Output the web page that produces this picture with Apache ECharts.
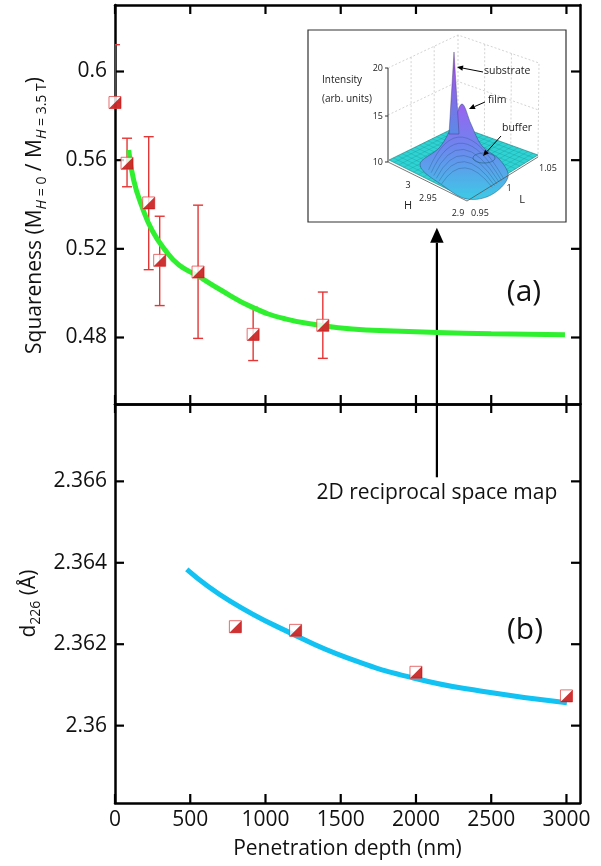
<!DOCTYPE html>
<html>
<head>
<meta charset="utf-8">
<title>Squareness and d226 vs penetration depth</title>
<script src="https://cdn.jsdelivr.net/npm/echarts@6.0.0/dist/echarts.min.js"></script>
<style>
  html, body { margin: 0; padding: 0; background: #fff; }
  #main { width: 601px; height: 866px; }
</style>
</head>
<body>
<div id="main"></div>
<script>
// panel (a): squareness points with error bars
var depthA = [0, 80, 224, 297, 552, 918, 1381];
var squareA = [0.586, 0.5586, 0.5407, 0.5148, 0.5095, 0.4814, 0.4855];
var errLowA = [0.586, 0.548, 0.5106, 0.4944, 0.4796, 0.4696, 0.4706];
var errHighA = [0.6121, 0.5699, 0.5706, 0.5347, 0.5397, 0.4936, 0.5005];
// panel (a): green fit curve
var fitDepthA = [91, 124, 180, 246, 335, 423, 545, 689, 911, 1132, 1376, 1576, 1850, 2139, 2500, 2990];
var fitSquareA = [0.5646, 0.551, 0.5389, 0.5284, 0.5193, 0.5128, 0.508, 0.502, 0.4937, 0.4884, 0.4854, 0.4838, 0.4829, 0.4823, 0.4817, 0.4812];
// panel (b): d226 points and blue fit curve
var depthB = [800, 1200, 2000, 3000];
var d226B = [2.36243, 2.36234, 2.36131, 2.36073];
var fitDepthB = [477, 765, 1186, 1540, 1983, 2427, 3003];
var fitD226B = [2.36384, 2.36306, 2.36224, 2.36167, 2.36117, 2.36085, 2.36056];
// ticks
var depthTicks = [0, 500, 1000, 1500, 2000, 2500, 3000];
var squareTicks = [0.48, 0.52, 0.56, 0.6];
var d226Ticks = [2.36, 2.362, 2.364, 2.366];
var squareRange = [0.45, 0.63];
var d226Range = [2.3581, 2.3679];
var depthRange = [0, 3090];
// annotation anchor: arrow from panel (b) up to the inset
var arrowDepth = 2139;
var arrowTopSquare = 0.5295;
var arrowBottomD = 2.3661;

var FONT = 'Open Sans';
var RED = '#e53535';
var DARKRED = '#c00000';
var HALF = 'path://M10,0L10,10L0,10Z';
var TICK_LEN = 9;

function zip(a, b) {
  var out = [];
  for (var i = 0; i < a.length; i++) out.push([a[i], b[i]]);
  return out;
}

function xAxisOf(grid, pos, labels) {
  return {
    type: 'value', gridIndex: grid, position: pos, min: depthRange[0], max: depthRange[1],
    axisLine: { show: true, onZero: false, lineStyle: { color: '#000', width: 2.5 } },
    axisTick: { show: false },
    axisLabel: { show: labels, customValues: depthTicks, color: '#111', fontFamily: FONT, fontSize: 21, margin: 7,
      formatter: function (v) { return String(v); } },
    splitLine: { show: false }
  };
}

function yAxisOf(grid, pos, range, ticks, labels) {
  return {
    type: 'value', gridIndex: grid, position: pos, min: range[0], max: range[1],
    axisLine: { show: true, onZero: false, lineStyle: { color: '#000', width: 2.5 } },
    axisTick: { show: false },
    axisLabel: { show: labels, customValues: ticks, color: '#111', fontFamily: FONT, fontSize: 21, margin: 8 },
    splitLine: { show: false }
  };
}

function renderErr(params, api) {
  var x = api.value(0);
  var pHi = api.coord([x, api.value(2)]);
  var pLo = api.coord([x, api.value(1)]);
  var w = 5;
  var st = { stroke: RED, lineWidth: 1.4 };
  return {
    type: 'group',
    children: [
      { type: 'line', shape: { x1: pHi[0], y1: pHi[1], x2: pLo[0], y2: pLo[1] }, style: st },
      { type: 'line', shape: { x1: pHi[0] - w, y1: pHi[1], x2: pHi[0] + w, y2: pHi[1] }, style: st },
      { type: 'line', shape: { x1: pLo[0] - w, y1: pLo[1], x2: pLo[0] + w, y2: pLo[1] }, style: st }
    ]
  };
}

function markerSeries(xIdx, yIdx, data) {
  return [
    { type: 'scatter', xAxisIndex: xIdx, yAxisIndex: yIdx, data: data, symbol: 'rect', symbolSize: 12, z: 5,
      itemStyle: { color: '#fff', borderColor: '#e24a4a', borderWidth: 1 }, silent: true },
    { type: 'scatter', xAxisIndex: xIdx, yAxisIndex: yIdx, data: data, symbol: HALF, symbolSize: 12, z: 6,
      itemStyle: { color: DARKRED }, silent: true }
  ];
}

var chart = echarts.init(document.getElementById('main'));

var yNameStyle = {
  rich: {
    t: { fontFamily: FONT, fontSize: 21, color: '#111', lineHeight: 28, verticalAlign: 'middle' },
    s: { fontFamily: FONT, fontSize: 14, color: '#111', lineHeight: 14, verticalAlign: 'bottom' },
    i: { fontFamily: FONT, fontSize: 14, color: '#111', lineHeight: 14, verticalAlign: 'bottom', fontStyle: 'italic' }
  }
};

var series = [
  { type: 'custom', xAxisIndex: 0, yAxisIndex: 0, renderItem: renderErr, clip: true, z: 2,
    data: depthA.map(function (d, i) { return [d, errLowA[i], errHighA[i]]; }) },
  { type: 'line', xAxisIndex: 0, yAxisIndex: 0, data: zip(fitDepthA, fitSquareA), smooth: 0.5,
    showSymbol: false, z: 3, lineStyle: { color: '#2ef02e', width: 5 } },
  { type: 'line', xAxisIndex: 2, yAxisIndex: 2, data: zip(fitDepthB, fitD226B), smooth: 0.5,
    showSymbol: false, z: 3, lineStyle: { color: '#12c2f2', width: 5 } }
].concat(
  markerSeries(0, 0, zip(depthA, squareA)),
  markerSeries(2, 2, zip(depthB, d226B))
);

chart.setOption({
  animation: false,
  grid: [
    { left: 115, right: 21, top: 5, height: 399 },
    { left: 115, right: 21, top: 404, height: 399 }
  ],
  xAxis: [
    xAxisOf(0, 'bottom', false),
    xAxisOf(0, 'top', false),
    Object.assign(xAxisOf(1, 'bottom', true), {
      name: 'Penetration depth (nm)', nameLocation: 'middle', nameGap: 36,
      nameTextStyle: { fontFamily: FONT, fontSize: 21, color: '#111' }
    }),
    xAxisOf(1, 'top', false)
  ],
  yAxis: [
    Object.assign(yAxisOf(0, 'left', squareRange, squareTicks, true), {
      name: '{t|Squareness (M}{i|H}{s| = 0}{t| / M}{i|H}{s| = 3.5 T}{t|)}',
      nameLocation: 'middle', nameGap: 66,
      nameTextStyle: Object.assign({ padding: [0, 22, 0, 0] }, yNameStyle)
    }),
    yAxisOf(0, 'right', squareRange, squareTicks, false),
    Object.assign(yAxisOf(1, 'left', d226Range, d226Ticks, true), {
      name: '{t|d}{s|226}{t| (Å)}',
      nameLocation: 'middle', nameGap: 66, nameTextStyle: yNameStyle
    }),
    yAxisOf(1, 'right', d226Range, d226Ticks, false)
  ],
  series: series
});

// inward ticks on all four sides of each panel, placed through the axes' own scales
function tickLine(x1, y1, x2, y2) {
  return { type: 'line', shape: { x1: x1, y1: y1, x2: x2, y2: y2 }, style: { stroke: '#000', lineWidth: 2.2 } };
}
function panelTicks(xIdx, yIdx, yRange, yTicks) {
  var out = [];
  var xl = chart.convertToPixel({ xAxisIndex: xIdx }, depthRange[0]);
  var xr = chart.convertToPixel({ xAxisIndex: xIdx }, depthRange[1]);
  var yt = chart.convertToPixel({ yAxisIndex: yIdx }, yRange[1]);
  var yb = chart.convertToPixel({ yAxisIndex: yIdx }, yRange[0]);
  depthTicks.forEach(function (v) {
    var x = chart.convertToPixel({ xAxisIndex: xIdx }, v);
    out.push(tickLine(x, yt, x, yt + TICK_LEN), tickLine(x, yb, x, yb - TICK_LEN));
  });
  yTicks.forEach(function (v) {
    var y = chart.convertToPixel({ yAxisIndex: yIdx }, v);
    out.push(tickLine(xl, y, xl + TICK_LEN, y), tickLine(xr, y, xr - TICK_LEN, y));
  });
  return { type: 'group', z: 25, children: out };
}

// ---- inset: 3D reciprocal space map sketch ----
function arrow(x1, y1, x2, y2, head, lw) {
  var ang = Math.atan2(y2 - y1, x2 - x1);
  var hx = x2 - head * Math.cos(ang), hy = y2 - head * Math.sin(ang);
  var nx = -Math.sin(ang) * head * 0.45, ny = Math.cos(ang) * head * 0.45;
  return [
    { type: 'line', shape: { x1: x1, y1: y1, x2: hx, y2: hy }, style: { stroke: '#000', lineWidth: lw } },
    { type: 'polygon', shape: { points: [[x2, y2], [hx + nx, hy + ny], [hx - nx, hy - ny]] }, style: { fill: '#000' } }
  ];
}

function lerp(p, q, t) { return [p[0] + (q[0] - p[0]) * t, p[1] + (q[1] - p[1]) * t]; }

function txt(x, y, s, size, align) {
  return { type: 'text', x: x, y: y, style: { text: s, fontFamily: FONT, fontSize: size, fill: '#222',
    align: align || 'left', verticalAlign: 'middle' } };
}

function buildInset() {
  var kids = [];
  kids.push({ type: 'rect', shape: { x: 0, y: 0, width: 258, height: 192 }, style: { fill: '#fff', stroke: '#333', lineWidth: 1.2 } });
  var dash = { stroke: '#c8c8c8', lineWidth: 0.8, lineDash: [2, 2] };
  var LT = [80, 38], BT = [150, 5], RT = [231, 33];
  var LB = [80, 132], BB = [150, 98], RB = [230, 127];
  // back walls with grid
  kids.push({ type: 'polyline', shape: { points: [LT, BT, RT, RB] }, style: dash });
  kids.push({ type: 'line', shape: { x1: BT[0], y1: BT[1], x2: BB[0], y2: BB[1] }, style: dash });
  var a, b, c, d, t;
  a = lerp(LT, LB, 0.5); b = lerp(BT, BB, 0.5); c = lerp(RT, RB, 0.5);
  kids.push({ type: 'polyline', shape: { points: [a, b, c] }, style: dash });
  [0.33, 0.66].forEach(function (tt) {
    var p = lerp(LT, BT, tt), q = lerp(LB, BB, tt);
    kids.push({ type: 'line', shape: { x1: p[0], y1: p[1], x2: q[0], y2: q[1] }, style: dash });
    var r = lerp(BT, RT, tt), s = lerp(BB, RB, tt);
    kids.push({ type: 'line', shape: { x1: r[0], y1: r[1], x2: s[0], y2: s[1] }, style: dash });
  });
  // floor surface
  var SL = [81, 130], SB = [150, 96], SR = [230, 125], SF = [159, 169];
  kids.push({ type: 'polygon', shape: { points: [SL, SB, SR, SF] }, style: { fill: '#2fd3d3', stroke: '#137c7c', lineWidth: 0.6 } });
  var mesh = { stroke: '#168888', lineWidth: 0.35, opacity: 0.8 };
  for (var i = 1; i < 16; i++) {
    t = i / 16;
    a = lerp(SL, SB, t); b = lerp(SF, SR, t);
    kids.push({ type: 'line', shape: { x1: a[0], y1: a[1], x2: b[0], y2: b[1] }, style: mesh });
    c = lerp(SL, SF, t); d = lerp(SB, SR, t);
    kids.push({ type: 'line', shape: { x1: c[0], y1: c[1], x2: d[0], y2: d[1] }, style: mesh });
  }
  // film mound
  kids.push({ type: 'polygon', shape: { smooth: 0.35, points: [[112, 135], [132, 117], [145, 94], [154, 74], [163, 94], [174, 116], [192, 130], [200, 147], [183, 165], [159, 169], [137, 157]] },
    style: { fill: new echarts.graphic.LinearGradient(0, 0, 0, 1, [
      { offset: 0, color: '#9a62f0' }, { offset: 0.45, color: '#6d86ee' }, { offset: 1, color: '#3ccbe6' }]),
      stroke: '#28507a', lineWidth: 0.5 } });
  for (var k = 1; k < 7; k++) {
    var u = k / 7;
    kids.push({ type: 'bezierCurve', shape: { x1: 118 + 18 * u, y1: 137 + 20 * u, x2: 198 - 16 * u, y2: 147 + 12 * u,
      cpx1: 150 + 6 * u, cpy1: 60 + 70 * u }, style: { stroke: '#2a4f80', lineWidth: 0.35, fill: 'none' } });
  }
  // buffer bump
  kids.push({ type: 'ellipse', shape: { cx: 176, cy: 128, rx: 11, ry: 5 }, style: { fill: 'none', stroke: '#1f5f7a', lineWidth: 0.6 } });
  // substrate spike
  kids.push({ type: 'polygon', shape: { points: [[141, 104], [146, 22], [151, 104]] },
    style: { fill: new echarts.graphic.LinearGradient(0, 0, 0, 1, [
      { offset: 0, color: '#b04be6' }, { offset: 1, color: '#5a8be8' }]), stroke: '#3b2f70', lineWidth: 0.4 } });
  // vertical intensity axis
  kids.push({ type: 'line', shape: { x1: 80, y1: 38, x2: 80, y2: 132 }, style: { stroke: '#333', lineWidth: 1 } });
  [38, 86, 132].forEach(function (y) {
    kids.push({ type: 'line', shape: { x1: 77, y1: y, x2: 80, y2: y }, style: { stroke: '#333', lineWidth: 1 } });
  });
  kids.push(txt(75, 38, '20', 9, 'right'), txt(75, 86, '15', 9, 'right'), txt(75, 132, '10', 9, 'right'));
  kids.push(txt(14, 50, 'Intensity', 10), txt(14, 69, '(arb. units)', 10));
  // H and L axes
  kids.push({ type: 'line', shape: { x1: 80, y1: 132, x2: 159, y2: 171 }, style: { stroke: '#555', lineWidth: 0.8 } });
  kids.push({ type: 'line', shape: { x1: 159, y1: 171, x2: 230, y2: 127 }, style: { stroke: '#555', lineWidth: 0.8 } });
  kids.push(txt(100, 155, '3', 9, 'center'), txt(120, 168, '2.95', 9, 'center'), txt(150, 183, '2.9', 9, 'center'), txt(100, 176, 'H', 11, 'center'));
  kids.push(txt(172, 183, '0.95', 9, 'center'), txt(201, 158, '1', 9, 'center'), txt(240, 138, '1.05', 9, 'center'), txt(214, 170, 'L', 11, 'center'));
  // peak labels
  kids.push(txt(176, 41, 'substrate', 10.5), txt(180, 70, 'film', 10.5), txt(194, 98, 'buffer', 10.5));
  kids = kids.concat(arrow(175, 42, 149, 37, 6, 1), arrow(177, 72, 161, 79, 6, 1), arrow(193, 106, 175, 126, 6, 1));
  return { type: 'group', x: 308, y: 30, z: 20, children: kids };
}

// arrow from "2D reciprocal space map" up to the inset
var ax = chart.convertToPixel({ xAxisIndex: 2 }, arrowDepth);
var ayBottom = chart.convertToPixel({ yAxisIndex: 2 }, arrowBottomD);
var ayTop = chart.convertToPixel({ yAxisIndex: 0 }, arrowTopSquare);

var graphics = [buildInset(), panelTicks(0, 0, squareRange, squareTicks), panelTicks(2, 2, d226Range, d226Ticks)];
graphics.push({ type: 'group', z: 20, children: arrow(ax, ayBottom, ax, ayTop, 15, 2.2) });
graphics.push({ type: 'text', x: ax, y: ayBottom + 16, z: 20, style: { text: '2D reciprocal space map', fontFamily: FONT,
  fontSize: 21, fill: '#111', align: 'center', verticalAlign: 'middle' } });
graphics.push({ type: 'text', x: 524, y: 292, z: 20, style: { text: '(a)', fontFamily: FONT, fontSize: 30, fill: '#111', align: 'center', verticalAlign: 'middle' } });
graphics.push({ type: 'text', x: 525, y: 630, z: 20, style: { text: '(b)', fontFamily: FONT, fontSize: 30, fill: '#111', align: 'center', verticalAlign: 'middle' } });

chart.setOption({ graphic: graphics });
</script>
</body>
</html>
